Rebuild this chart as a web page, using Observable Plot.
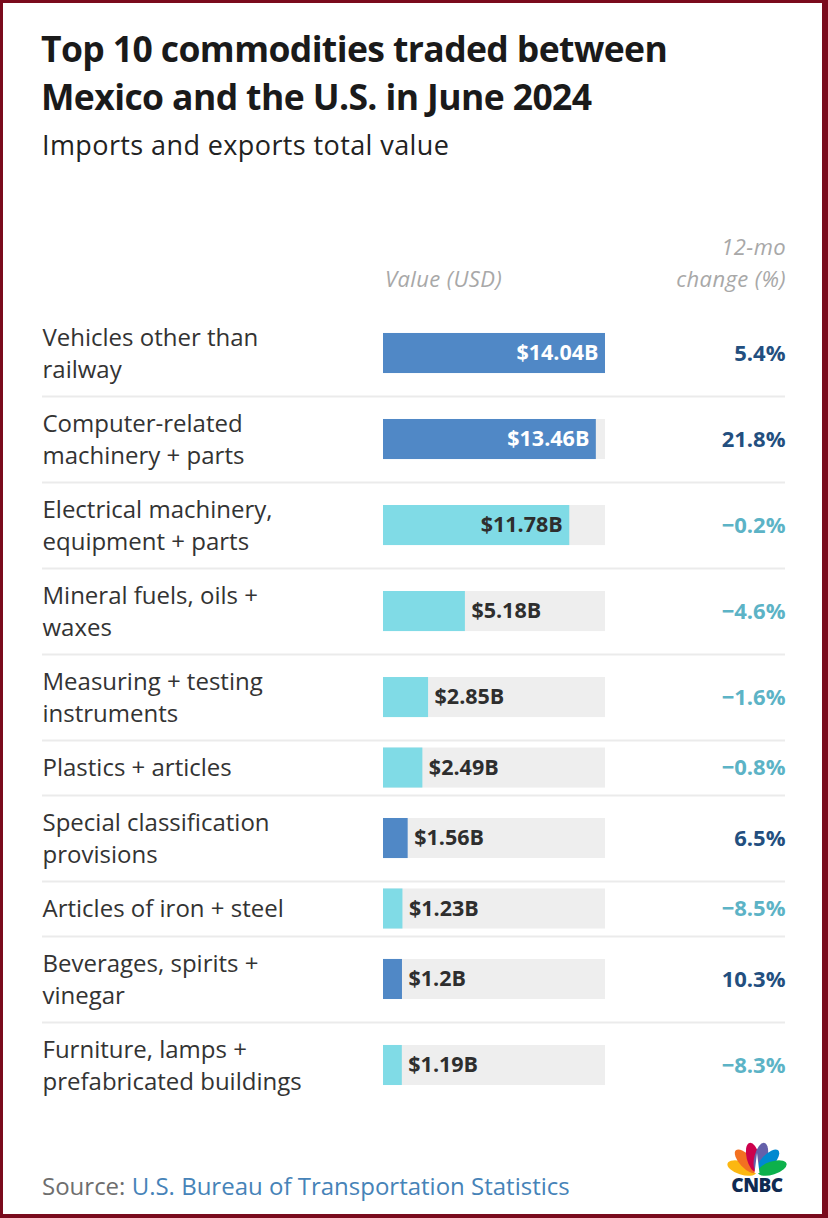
<!DOCTYPE html>
<html>
<head>
<meta charset="utf-8">
<script src="https://cdn.jsdelivr.net/npm/d3@7"></script>
<script src="https://cdn.jsdelivr.net/npm/@observablehq/plot@0.6"></script>
<style>
  html, body { margin: 0; padding: 0; background: #fff; }
  #wrap { position: relative; width: 828px; height: 1218px; overflow: hidden; background: #fff; font-family: "Open Sans", Lato, sans-serif; }
  #frame { position: absolute; left: 0; top: 0; width: 828px; height: 1218px; box-sizing: border-box; border-style: solid; border-color: #7a0b1d; border-width: 3px 6px 4px 3px; pointer-events: none; }
  #chart { position: absolute; left: 0; top: 0; }
  .title { position: absolute; left: 41px; top: 24px; font-size: 35.5px; line-height: 48px; font-weight: 700; color: #1a1a1a; white-space: nowrap; letter-spacing: -0.6px; }
  .subtitle { position: absolute; left: 42px; top: 127px; font-size: 27px; line-height: 36px; font-weight: 400; color: #222; white-space: nowrap; letter-spacing: 0.4px; }
  .hdr { position: absolute; font-style: italic; font-size: 22px; color: #a8a8a8; white-space: nowrap; letter-spacing: 0.4px; }
  .hdr.val { left: 385px; top: 263px; line-height: 30px; }
  .hdr.chg { right: 42px; top: 230px; line-height: 32px; text-align: right; }
  .source { position: absolute; left: 42px; top: 1170px; font-size: 24px; line-height: 32px; color: #6e6e6e; white-space: nowrap; }
  .source span { color: #4683b8; }
  #logo { position: absolute; left: 717px; top: 1136px; }
</style>
</head>
<body>
<div id="wrap">
  <div id="chart"></div>
  <div class="title">Top 10 commodities traded between<br>Mexico and the U.S. in June 2024</div>
  <div class="subtitle">Imports and exports total value</div>
  <div class="hdr val">Value (USD)</div>
  <div class="hdr chg">12-mo<br>change (%)</div>
  <div class="source">Source: <span>U.S. Bureau of Transportation Statistics</span></div>
  <svg id="logo" width="80" height="62" viewBox="0 0 80 62">
    <g transform="translate(40,37)">
      <ellipse cx="0" cy="-16" rx="6.5" ry="15" fill="#fcb711" transform="rotate(-72)"/>
      <ellipse cx="0" cy="-16" rx="6.5" ry="15" fill="#f37021" transform="rotate(-43)"/>
      <ellipse cx="0" cy="-16" rx="6.5" ry="15" fill="#cc004c" transform="rotate(-14)"/>
      <ellipse cx="0" cy="-16" rx="6.5" ry="15" fill="#6460aa" transform="rotate(14)"/>
      <ellipse cx="0" cy="-16" rx="6.5" ry="15" fill="#0089d0" transform="rotate(43)"/>
      <ellipse cx="0" cy="-16" rx="6.5" ry="15" fill="#0db14b" transform="rotate(72)"/>
      <path d="M0,-20 L-2.5,0 L2.5,0 Z" fill="#fff"/>
    </g>
    <text x="40" y="56" text-anchor="middle" font-family="'Open Sans', sans-serif" font-weight="800" font-size="19" letter-spacing="-0.5" fill="#0f2a52">CNBC</text>
  </svg>
  <div id="frame"></div>
</div>
<script>
const labels = [
  "Vehicles other than\nrailway",
  "Computer-related\nmachinery + parts",
  "Electrical machinery,\nequipment + parts",
  "Mineral fuels, oils +\nwaxes",
  "Measuring + testing\ninstruments",
  "Plastics + articles",
  "Special classification\nprovisions",
  "Articles of iron + steel",
  "Beverages, spirits +\nvinegar",
  "Furniture, lamps +\nprefabricated buildings"
];
const values = [14.04, 13.46, 11.78, 5.18, 2.85, 2.49, 1.56, 1.23, 1.2, 1.19];
const changes = [5.4, 21.8, -0.2, -4.6, -1.6, -0.8, 6.5, -8.5, 10.3, -8.3];

// layout constants (in "text line" units)
const rowPad = 0.77;
const barHalf = 0.645;

let cum = 0;
const rows = labels.map((label, i) => {
  const lines = label.split("\n").length;
  const h = lines + rowPad;
  const r = {
    label, value: values[i], change: changes[i],
    top: cum, bottom: cum + h, mid: cum + h / 2,
    positive: changes[i] >= 0,
    inside: values[i] >= 8
  };
  cum += h;
  return r;
});
const total = cum;
const vmax = d3.max(values);

const barColor = d => d.positive ? "#5088c6" : "#80dbe6";
const fmtVal = v => `$${v}B`;
const fmtChg = c => (c < 0 ? "\u2212" : "") + Math.abs(c).toFixed(1) + "%";

const chart = Plot.plot({
  width: 828,
  height: 1218,
  marginLeft: 42,
  marginRight: 43,
  marginTop: 0,
  marginBottom: 0,
  style: { fontFamily: "'Open Sans', Lato, sans-serif", background: "transparent" },
  x: { domain: [0, vmax], range: [383, 605], axis: null },
  y: { domain: [0, total], range: [310, 1108], axis: null },
  marks: [
    Plot.ruleY(rows.slice(0, -1), { y: "bottom", stroke: "#ebebeb", strokeWidth: 2 }),
    Plot.rect(rows, { x1: 0, x2: vmax, y1: d => d.mid - barHalf, y2: d => d.mid + barHalf, fill: "#eeeeee" }),
    Plot.rect(rows, { x1: 0, x2: "value", y1: d => d.mid - barHalf, y2: d => d.mid + barHalf, fill: barColor }),
    Plot.text(rows.filter(d => d.inside), {
      x: "value", y: "mid", text: d => fmtVal(d.value), textAnchor: "end", dx: -7,
      fontSize: 21.5, fontWeight: 700, letterSpacing: 0.3, fill: d => d.positive ? "#ffffff" : "#2e2e2e"
    }),
    Plot.text(rows.filter(d => !d.inside), {
      x: "value", y: "mid", text: d => fmtVal(d.value), textAnchor: "start", dx: 6,
      fontSize: 21.5, fontWeight: 700, letterSpacing: 0.3, fill: "#2e2e2e"
    }),
    Plot.text(rows, {
      y: "mid", text: "label", frameAnchor: "left", textAnchor: "start", lineAnchor: "middle", dy: -2,
      fontSize: 24, lineHeight: 32 / 24, fill: "#333333"
    }),
    Plot.text(rows, {
      y: "mid", text: d => fmtChg(d.change), frameAnchor: "right", textAnchor: "end",
      fontSize: 22, fontWeight: 700, letterSpacing: 0.8, fill: d => d.positive ? "#234f7f" : "#5cb3c6"
    })
  ]
});
document.getElementById("chart").appendChild(chart);
</script>
</body>
</html>
